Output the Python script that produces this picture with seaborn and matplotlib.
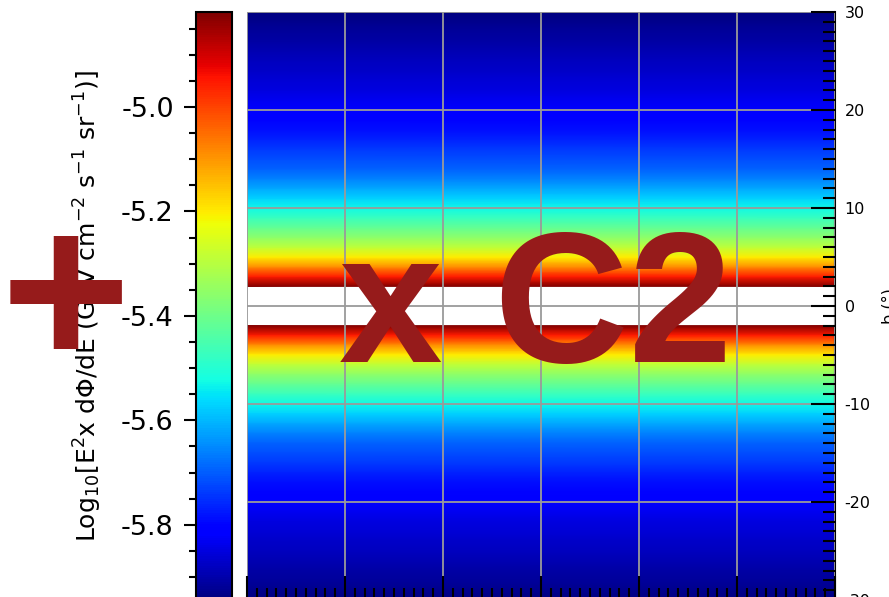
import matplotlib
matplotlib.use("Agg")
import matplotlib.pyplot as plt
import numpy as np
import seaborn as sns
from matplotlib.ticker import MultipleLocator, FormatStrFormatter

lat_deg = [2, 3, 4, 5, 6, 7, 8, 9, 10, 11, 12, 13, 14, 15, 16,
           17, 18, 19, 20, 21, 22, 23, 24, 25, 26, 27, 28, 29, 30]
log_flux = [-4.818, -4.953, -5.088, -5.201, -5.291, -5.358, -5.415, -5.471,
            -5.527, -5.572, -5.617, -5.662, -5.696, -5.719, -5.741, -5.764,
            -5.786, -5.803, -5.820, -5.831, -5.848, -5.860, -5.871, -5.882,
            -5.893, -5.905, -5.916, -5.930, -5.944]
lon_edges = [30, -30]
cbar_ticks = [-5.8, -5.6, -5.4, -5.2, -5.0]
flux_min, flux_max = -5.944, -4.818

sns.set_theme(style="ticks")
plt.rcParams["font.family"] = "DejaVu Sans"
plt.rcParams["axes.unicode_minus"] = False
for key in ("text.color", "axes.labelcolor", "xtick.color", "ytick.color"):
    plt.rcParams[key] = "black"

W, H = 889, 597
fig = plt.figure(figsize=(W / 100, H / 100), dpi=100)


def fx(px):
    return px / W


def fy(px):
    return (H - px) / H


ax = fig.add_axes([fx(247), fy(600), fx(835) - fx(247), fy(12) - fy(600)])
cax = fig.add_axes([fx(196), fy(600), fx(232) - fx(196), fy(12) - fy(600)])

b = np.array(lat_deg, dtype=float)
flux = np.array(log_flux)
lon = np.array(lon_edges, dtype=float)
C = np.column_stack([flux, flux])
mesh = None
for sign in (1, -1):
    X, Y = np.meshgrid(lon, sign * b)
    mesh = ax.pcolormesh(X, Y, C, shading="gouraud", cmap="jet",
                         vmin=flux_min, vmax=flux_max)

ax.set_xlim(30, -30)
ax.set_ylim(-30, 30)
ax.xaxis.set_major_locator(MultipleLocator(10))
ax.xaxis.set_minor_locator(MultipleLocator(1))
ax.yaxis.set_major_locator(MultipleLocator(10))
ax.yaxis.set_minor_locator(MultipleLocator(1))
ax.yaxis.tick_right()
ax.yaxis.set_label_position("right")
ax.tick_params(which="both", direction="in", color="black", width=1.5,
               left=False, right=True, top=False, bottom=True,
               labelsize=11.5, labelcolor="black", pad=7)
ax.tick_params(which="major", length=17)
ax.tick_params(which="minor", length=9)
ax.set_ylabel("b (°)", fontsize=11.5, labelpad=8, color="black")
ax.set_xlabel("l (°)", fontsize=11.5, color="black")
ax.grid(True, which="major", color="#9a9a9a", linewidth=1.3)
ax.set_axisbelow(False)
for side in ("top", "left"):
    ax.spines[side].set_visible(False)
for side in ("right", "bottom"):
    ax.spines[side].set_color("black")
    ax.spines[side].set_linewidth(1.5)

cb = fig.colorbar(mesh, cax=cax)
cb.set_ticks(cbar_ticks)
cax.yaxis.set_major_formatter(FormatStrFormatter("%.1f"))
cax.yaxis.set_minor_locator(MultipleLocator(0.05))
cax.yaxis.set_ticks_position("left")
cax.yaxis.set_label_position("left")
cax.tick_params(which="both", direction="out", color="black", width=1.5,
                labelsize=19.5, labelcolor="black", pad=7)
cax.tick_params(which="major", length=9)
cax.tick_params(which="minor", length=5)
cb.outline.set_edgecolor("black")
cb.outline.set_linewidth(1.5)
cb.set_label("Log$_{10}$[E$^{2}$x dΦ/dE (GeV cm$^{-2}$ s$^{-1}$ sr$^{-1}$)]",
             fontsize=18, labelpad=12, color="black")

mark_color = "#961b1b"
fig.text(fx(66), fy(367), "+", fontsize=160, fontweight="bold",
         family="Liberation Sans", color=mark_color, ha="center", va="baseline")
fig.text(fx(339), fy(362), "x C2", fontsize=134, fontweight="bold",
         family="Liberation Sans", color=mark_color, ha="left", va="baseline")

fig.savefig("out.png", dpi=100)
